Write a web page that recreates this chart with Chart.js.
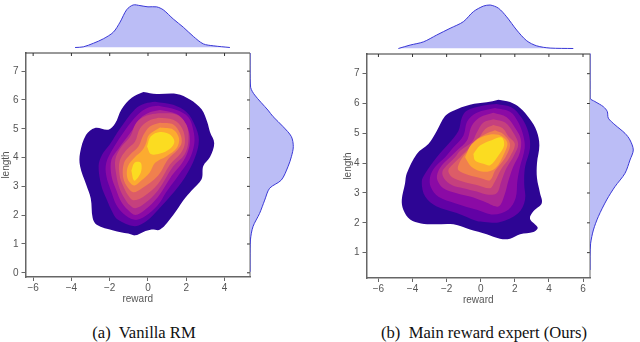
<!DOCTYPE html>
<html>
<head>
<meta charset="utf-8">
<script src="https://cdn.jsdelivr.net/npm/chart.js@4/dist/chart.umd.min.js"></script>
<style>
  body { margin: 0; background: #fff; width: 640px; height: 342px; overflow: hidden; position: relative; }
  canvas { position: absolute; filter: blur(0.4px); }
  .cap { position: absolute; top: 323px; font: 16.6px "Liberation Serif", serif; color: #111; white-space: pre; transform: translateX(-50%); }
</style>
</head>
<body>
<canvas id="mainA" width="254" height="261" style="left:0;top:44px"></canvas>
<canvas id="topA" width="254" height="48" style="left:0;top:0"></canvas>
<canvas id="sideA" width="50" height="236" style="left:250px;top:44px"></canvas>
<canvas id="mainB" width="252" height="261" style="left:342px;top:45px"></canvas>
<canvas id="topB" width="252" height="49" style="left:342px;top:0"></canvas>
<canvas id="sideB" width="50" height="234" style="left:590px;top:45px"></canvas>
<div class="cap" style="left:144px">(a)  Vanilla RM</div>
<div class="cap" style="left:484px">(b)  Main reward expert (Ours)</div>
<script>
// tick values
const xTicksA = [-6, -4, -2, 0, 2, 4];
const yTicksA = [0, 1, 2, 3, 4, 5, 6, 7];
const xTicksB = [-6, -4, -2, 0, 2, 4, 6];
const yTicksB = [1, 2, 3, 4, 5, 6, 7];

// density bands, low to high
const bandColors = ['#2d0594', '#6201a5', '#8b0aa5', '#ac2694', '#c5407e', '#dc5c68', '#f0804e', '#fcab30', '#fbdc21'];

// panel (a) contours as [reward, length]
const a1 = [[-.24,6.28],[.45,6.21],[1.5,6.21],[2.19,6.02],[2.8,5.68],[3.1,5.23],[3.24,4.89],[3.46,4.5],[3.24,4.02],[2.89,3.71],[2.8,3.25],[2.28,2.86],[1.85,2.52],[1.32,2.01],[.63,1.5],[.19,1.5],[-.24,1.42],[-.68,1.3],[-1.03,1.36],[-1.81,1.47],[-2.68,1.67],[-2.89,1.9],[-2.99,2.58],[-3.24,3.08],[-3.55,3.71],[-3.55,4.16],[-3.24,4.78],[-2.77,5.03],[-2.07,4.97],[-1.72,5.18],[-1.38,5.68],[-.85,6.08]];
const a2 = [[.37,5.94],[1.32,5.83],[2.02,5.57],[2.45,5.12],[2.66,4.61],[2.45,3.99],[1.93,3.31],[1.2,2.68],[.52,2.18],[-.09,1.79],[-.7,1.62],[-1.57,1.84],[-1.83,2.07],[-2.18,2.58],[-2.44,3.03],[-2.58,3.71],[-2.4,4.1],[-2,4.45],[-1.46,5.01],[-.68,5.68],[-.16,5.88]];
const a3 = [[.54,5.8],[1.5,5.65],[2.11,5.4],[2.37,4.95],[2.42,4.49],[2.16,3.93],[1.58,3.37],[.95,2.8],[.52,2.35],[-.17,1.95],[-.7,1.84],[-1.31,2.07],[-1.65,2.35],[-1.91,2.8],[-2.18,3.37],[-2.18,3.82],[-1.81,4.33],[-1.2,4.95],[-.5,5.51],[.02,5.74]];
const a4 = [[.63,5.65],[1.5,5.51],[1.93,5.23],[2.16,4.84],[2.16,4.38],[1.85,3.88],[1.24,3.37],[.52,2.63],[-.17,2.18],[-.66,2.01],[-1.04,2.18],[-1.39,2.46],[-1.65,2.86],[-1.91,3.37],[-1.91,3.93],[-1.55,4.3],[-.94,4.84],[-.42,5.35],[.1,5.57]];
const a5 = [[.54,5.54],[1.5,5.49],[2.02,5.12],[2.11,4.55],[1.9,4.1],[1.32,3.7],[.52,2.86],[-.17,2.41],[-.66,2.24],[-.96,2.35],[-1.22,2.58],[-1.48,2.92],[-1.65,3.37],[-1.71,3.93],[-1.38,4.38],[-.94,4.72],[-.59,5.23],[-.07,5.46]];
const a6 = [[.54,5.38],[1.32,5.31],[1.79,5.01],[1.93,4.52],[1.72,4.16],[1.15,3.76],[.52,3.08],[-.26,2.63],[-.78,2.52],[-1.04,2.69],[-1.31,3.03],[-1.48,3.37],[-1.48,3.88],[-1.12,4.27],[-.68,4.55],[-.42,5.01],[.02,5.27]];
const a7 = [[.63,5.21],[1.32,5.15],[1.67,4.84],[1.76,4.52],[1.55,4.27],[1.06,3.95],[.52,3.37],[-.35,2.92],[-.78,2.8],[-1.13,3.03],[-1.31,3.37],[-1.25,3.82],[-.94,4.1],[-.5,4.38],[-.24,4.78],[.1,5.08]];
const a8 = [[.63,5.04],[1.32,4.97],[1.62,4.67],[1.5,4.33],[.97,4.05],[.37,3.82],[.09,3.48],[-.35,3.2],[-.7,3.03],[-.96,3.14],[-1.1,3.37],[-1.04,3.71],[-.7,4],[-.3,4.25],[-.1,4.5],[.05,4.78]];
const a9up = [[-.05,4.38],[.15,4.74],[.63,4.89],[1.15,4.8],[1.38,4.55],[1.15,4.31],[.63,4.14],[.15,4.12]];
const a9low = [[-.87,3.54],[-.7,3.82],[-.38,3.82],[-.35,3.54],[-.52,3.31],[-.73,3.2]];

// panel (b) contours
const b1 = [[1.04,6.13],[1.72,6.05],[2.31,5.85],[2.89,5.47],[3.28,5.08],[3.44,4.6],[3.3,4],[3.3,3.5],[3.48,2.99],[3.58,2.66],[3.09,2.39],[2.89,2.14],[3.34,1.84],[3.09,1.69],[2.31,1.62],[1.72,1.47],[1.13,1.47],[.35,1.62],[-.63,1.78],[-1.6,1.95],[-2.78,1.95],[-3.5,1.98],[-4.14,2.11],[-4.54,2.44],[-4.63,2.77],[-4.44,3.32],[-4.34,3.65],[-3.75,4.31],[-3.07,4.64],[-2.58,5.08],[-2.09,5.58],[-1.6,5.76],[-.63,5.96],[.35,6.04]];
const b2 = [[.94,5.98],[1.82,5.87],[2.4,5.52],[2.8,5.03],[2.89,4.5],[2.6,3.87],[2.55,3.32],[2.6,2.77],[2.21,2.33],[1.1,2.02],[.2,2.03],[-.23,2.06],[-1.41,2.33],[-2.58,2.55],[-3.26,2.88],[-3.46,3.38],[-3.26,3.65],[-2.58,4.2],[-1.9,4.64],[-1.31,5.08],[-1.11,5.52],[-.82,5.76],[.16,5.93]];
const b3 = [[.84,5.85],[1.72,5.72],[2.21,5.36],[2.5,4.92],[2.58,4.5],[2.3,3.87],[2.15,3.4],[2.05,2.83],[1.62,2.44],[.74,2.28],[-.23,2.44],[-1.51,2.66],[-2.48,2.87],[-2.93,3.2],[-2.97,3.54],[-2.68,3.87],[-2.09,4.2],[-1.6,4.53],[-1.02,4.92],[-.78,5.41],[-.23,5.69]];
const b4 = [[.74,5.69],[1.52,5.54],[2.01,5.19],[2.35,4.81],[2.3,4.37],[1.9,3.87],[1.62,3.4],[1.4,2.94],[1.04,2.55],[.16,2.72],[-.63,2.88],[-1.41,2.99],[-2.19,3.16],[-2.54,3.43],[-2.54,3.65],[-2.29,3.92],[-1.8,4.2],[-1.41,4.42],[-.82,4.75],[-.53,5.25],[-.04,5.54]];
const b5 = [[.74,5.47],[1.43,5.36],[1.9,5.03],[2.2,4.64],[1.95,4.26],[1.5,3.82],[1.2,3.38],[.95,3],[.45,2.94],[-.23,3.05],[-1.02,3.16],[-1.7,3.27],[-2.15,3.49],[-2.25,3.71],[-2,3.92],[-1.51,4.2],[-1.21,4.42],[-.53,4.7],[-.23,5.03],[.16,5.36]];
const b6 = [[.74,5.28],[1.29,5.17],[1.62,4.9],[2,4.64],[1.7,4.2],[1.2,3.8],[.8,3.35],[.55,3.16],[-.23,3.27],[-1.02,3.38],[-1.7,3.54],[-1.9,3.76],[-1.6,3.98],[-1.21,4.2],[-.63,4.53],[-.14,4.81],[.25,5.14]];
const b7 = [[.84,5.1],[1.33,4.97],[1.72,4.64],[1.45,4.2],[.85,3.75],[.55,3.43],[.06,3.49],[-.72,3.6],[-1.31,3.76],[-1.31,3.93],[-1,4.25],[-.6,4.5],[-.33,4.75],[.25,4.97]];
const b8 = [[-.92,4.2],[-.53,4.64],[.25,4.92],[1.05,4.95],[1.55,4.7],[1.4,4.35],[.84,3.82],[.16,3.71],[-.53,3.87]];
const b9 = [[-.43,4.31],[-.04,4.59],[.64,4.77],[1.23,4.86],[1.37,4.59],[1.04,4.26],[.55,3.93],[.16,3.98],[-.33,4.09]];

// marginals [reward, density] and [density, length]
const topA = [[-3.81,0],[-3.38,.003],[-2.85,.02],[-2.33,.041],[-1.81,.072],[-1.46,.119],[-1.11,.178],[-.77,.2],[-.42,.197],[0,.191],[.45,.191],[.8,.177],[1.32,.134],[1.85,.095],[2.37,.052],[2.89,.017],[3.41,.008],[4.28,0]];
const sideA = [[0,7.44],[0,6.9],[.003,6.28],[.022,6.02],[.084,5.51],[.108,5.29],[.155,4.95],[.194,4.61],[.203,4.27],[.194,3.93],[.178,3.59],[.147,3.14],[.092,2.86],[.069,2.46],[.045,2.01],[.014,1.56],[.002,1.11],[0,.5],[0,.03]];
const topB = [[-4.83,0],[-4.14,.016],[-3.36,.031],[-2.58,.063],[-1.8,.094],[-1.02,.125],[-.43,.172],[.16,.198],[.55,.203],[1.04,.188],[1.52,.148],[2.11,.086],[2.7,.036],[3.28,.0125],[4.07,.002],[5.43,0]];
const sideB = [[0,7.5],[0,6.6],[0,6.02],[.023,5.91],[.0625,5.74],[.081,5.58],[.086,5.36],[.117,5.14],[.164,4.86],[.1875,4.64],[.203,4.31],[.1875,3.98],[.164,3.54],[.117,3.1],[.078,2.66],[.039,2.11],[.016,1.67],[.003,1.23],[0,.8],[0,.35]];

const contoursA = [a1, a2, a3, a4, a5, a6, a7, a8, a9up, a9low];
const contourColorsA = [0, 1, 2, 3, 4, 5, 6, 7, 8, 8];
const contoursB = [b1, b2, b3, b4, b5, b6, b7, b8, b9];
const contourColorsB = [0, 1, 2, 3, 4, 5, 6, 7, 8];

const gray = '#666';
const font = { family: '"Liberation Sans", Arial, sans-serif', size: 10 };

function toPoints(list) {
  return list.map(function (p) { return { x: p[0], y: p[1] }; });
}

function minusLabel(v) {
  return String(v).replace('-', '\u2212');
}

// top and right edge of the frame with the mirrored ticks
const framePlugin = {
  id: 'frame',
  afterDraw(chart) {
    const a = chart.chartArea, c = chart.ctx;
    c.save();
    c.lineWidth = 1;
    c.strokeStyle = '#333';
    c.beginPath();
    c.moveTo(a.left, a.top); c.lineTo(a.right, a.top);
    chart.scales.x.ticks.forEach(function (t) {
      const px = chart.scales.x.getPixelForValue(t.value);
      c.moveTo(px, a.top); c.lineTo(px, a.top + 3);
    });
    chart.scales.y.ticks.forEach(function (t) {
      const py = chart.scales.y.getPixelForValue(t.value);
      c.moveTo(a.right, py); c.lineTo(a.right - 3, py);
    });
    c.stroke();
    c.strokeStyle = gray;
    c.beginPath();
    c.moveTo(a.right, a.top); c.lineTo(a.right, a.bottom);
    c.stroke();
    c.restore();
  }
};

function mainChart(id, contours, colorIdx, xr, yr, xTicks, yTicks, axisW, pad) {
  return new Chart(document.getElementById(id), {
    type: 'scatter',
    plugins: [framePlugin],
    data: {
      datasets: contours.map(function (list, i) {
        return {
          data: toPoints(list.concat([list[0]])),
          showLine: true,
          fill: 'shape',
          order: contours.length - i, // outer band is painted first
          tension: 0.35,
          borderWidth: 0,
          pointRadius: 0,
          backgroundColor: bandColors[colorIdx[i]]
        };
      })
    },
    options: {
      responsive: false,
      animation: false,
      layout: { padding: pad },
      plugins: { legend: { display: false }, tooltip: { enabled: false } },
      scales: {
        x: {
          type: 'linear', min: xr[0], max: xr[1],
          afterFit(s) { s.height = 28; },
          afterBuildTicks(s) { s.ticks = xTicks.map(function (v) { return { value: v }; }); },
          grid: { drawOnChartArea: false, tickLength: 4, color: gray },
          border: { color: gray, width: 1.5 },
          ticks: { font: font, color: '#555', padding: 1, maxRotation: 0, autoSkip: false, callback: minusLabel },
          title: { display: true, text: 'reward', font: font, color: '#555', padding: 0 }
        },
        y: {
          type: 'linear', min: yr[0], max: yr[1],
          afterFit(s) { s.width = axisW; },
          afterBuildTicks(s) { s.ticks = yTicks.map(function (v) { return { value: v }; }); },
          grid: { drawOnChartArea: false, tickLength: 4, color: gray },
          border: { color: gray, width: 1.5 },
          ticks: { font: font, color: '#555', padding: 3, autoSkip: false, callback: minusLabel },
          title: { display: true, text: 'length', font: font, color: '#555', padding: 0 }
        }
      }
    }
  });
}

function marginalChart(id, list, xr, yr, pad) {
  return new Chart(document.getElementById(id), {
    type: 'scatter',
    data: {
      datasets: [{
        data: toPoints(list),
        showLine: true,
        fill: 'shape',
        tension: 0.3,
        clip: false,
        pointRadius: 0,
        borderWidth: 1,
        borderColor: '#3a38d6',
        backgroundColor: '#bbbdf6'
      }]
    },
    options: {
      responsive: false,
      animation: false,
      layout: { padding: pad },
      plugins: { legend: { display: false }, tooltip: { enabled: false } },
      scales: {
        x: { type: 'linear', display: false, min: xr[0], max: xr[1] },
        y: { type: 'linear', display: false, min: yr[0], max: yr[1] }
      }
    }
  });
}

const xRangeA = [-6.4, 5.33], yRangeA = [-0.146, 7.63];
const xRangeB = [-6.7, 6.41], yRangeB = [0.15, 7.66];
const densRange = [0, 0.203];

mainChart('mainA', contoursA, contourColorsA, xRangeA, yRangeA, xTicksA, yTicksA, 25.5, { top: 3.5, right: 4 });
marginalChart('topA', topA, xRangeA, densRange, { left: 25.5, right: 4, top: 4.3, bottom: 0.5 });
marginalChart('sideA', sideA, densRange, yRangeA, { left: 0, right: 6.7, top: 3.5, bottom: 3 });

mainChart('mainB', contoursB, contourColorsB, xRangeB, yRangeB, xTicksB, yTicksB, 24.5, { top: 3.5, right: 4 });
marginalChart('topB', topB, xRangeB, densRange, { left: 24.5, right: 4, top: 5, bottom: 0.5 });
marginalChart('sideB', sideB, densRange, yRangeB, { left: 0, right: 6.7, top: 3.5, bottom: 3 });
</script>
</body>
</html>
